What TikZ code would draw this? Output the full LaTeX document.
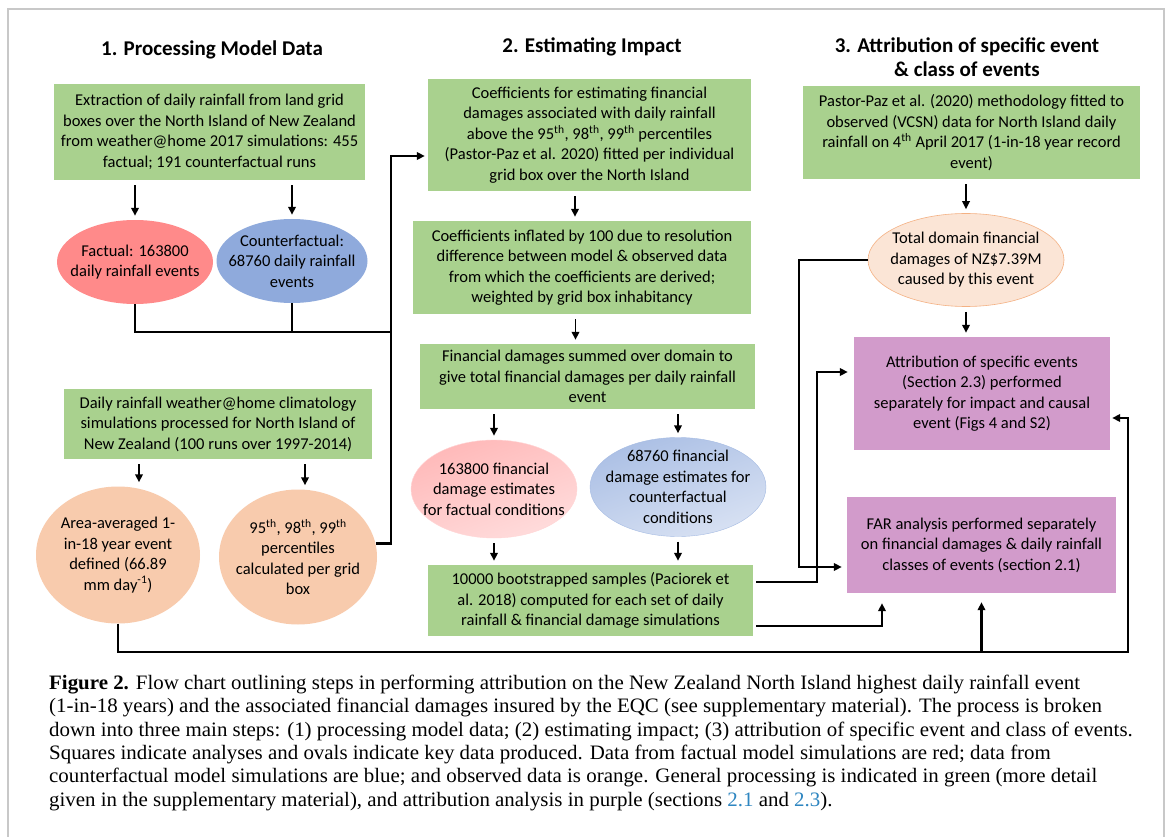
\documentclass[tikz,border=0pt]{standalone}
\usepackage{fontspec}
\setmainfont{Carlito}
\newfontfamily\capfont[FakeStretch=1.02]{Liberation Serif}
\usetikzlibrary{arrows.meta,shapes.geometric}

\definecolor{procgreen}{HTML}{A9D18E}
\definecolor{attrpurple}{HTML}{D29BCB}
\definecolor{factred}{HTML}{FF8A8A}
\definecolor{cfblue}{HTML}{8FAADC}
\definecolor{obsorange}{HTML}{F8CBAD}
\definecolor{obslight}{HTML}{FBE5D6}
\definecolor{obsedge}{HTML}{F4B183}
\definecolor{framegrey}{HTML}{C8C8C8}
\definecolor{refblue}{HTML}{2E86C1}

\tikzset{
  procbox/.style={fill=procgreen, align=center, inner sep=0pt},
  attrbox/.style={fill=attrpurple, align=center, inner sep=0pt},
  oval/.style={ellipse, inner sep=0pt},
  steptitle/.style={font=\fontsize{21}{24}\selectfont\bfseries, align=center},
  flow/.style={-{Triangle[length=8pt,width=7.5pt]}, line width=1.8pt,
    shorten <=5pt, shorten >=4pt},
  link/.style={line width=2.4pt},
  linkarrow/.style={-{Triangle[length=8pt,width=7.5pt]}},
}

\begin{document}
\begin{tikzpicture}[x=1pt, y=-1pt, font=\fontsize{16.5}{20.5}\selectfont]
\useasboundingbox (0,0) rectangle (1171,837);
\fill[white] (0,0) rectangle (1171,837);
% frame
\draw[framegrey, line width=1.5pt] (8,837) -- (8,9) -- (1164,9) -- (1164,837);

% titles
\node[steptitle] (t1) at (212,50) {1. Processing Model Data};
\node[steptitle] (t2) at (592,47) {2. Estimating Impact};
\node[steptitle] (t3) at (967,57) {3. Attribution of specific event\\\& class of events};

% 1. processing model data
\node[procbox, minimum width=311pt, minimum height=96pt] (extr) at (209.5,132)
  {Extraction of daily rainfall from land grid\\boxes over the North Island of New Zealand\\from weather@home 2017 simulations: 455\\factual; 191 counterfactual runs};
\node[oval, fill=factred, minimum width=156pt, minimum height=84pt,
  label={[align=center]center:{Factual: 163800\\daily rainfall events}}] (fact) at (135,262) {};
\node[oval, fill=cfblue, minimum width=151pt, minimum height=84pt,
  label={[align=center]center:{Counterfactual:\\68760 daily rainfall\\events}}] (cf) at (292,261) {};
\node[procbox, minimum width=308pt, minimum height=70pt] (clim) at (218,424)
  {Daily rainfall weather@home climatology\\simulations processed for North Island of\\New Zealand (100 runs over 1997-2014)};
\node[oval, fill=obsorange, minimum width=164pt, minimum height=137pt,
  label={[align=center]center:{Area-averaged 1-\\in-18 year event\\defined (66.89\\mm day\textsuperscript{-1})}}] (area) at (118,555) {};
\node[oval, fill=obsorange, minimum width=158pt, minimum height=135pt,
  label={[align=center]center:{95\textsuperscript{th}, 98\textsuperscript{th}, 99\textsuperscript{th}\\percentiles\\calculated per grid\\box}}] (pct) at (298,557) {};

% 2. estimating impact
\node[procbox, minimum width=323pt, minimum height=112pt] (coef) at (589.5,135)
  {Coefficients for estimating financial\\damages associated with daily rainfall\\above the 95\textsuperscript{th}, 98\textsuperscript{th}, 99\textsuperscript{th} percentiles\\(Pastor-Paz et al. 2020) fitted per individual\\grid box over the North Island};
\node[procbox, minimum width=338pt, minimum height=93pt] (infl) at (582,267.5)
  {Coefficients inflated by 100 due to resolution\\difference between model \& observed data\\from which the coefficients are derived;\\weighted by grid box inhabitancy};
\node[procbox, minimum width=335pt, minimum height=65pt] (sum) at (587.5,376.5)
  {Financial damages summed over domain to\\give total financial damages per daily rainfall\\event};
\node[oval, top color=factred!60, bottom color=factred!30, shading angle=20, draw=factred!35,
  minimum width=166pt, minimum height=98pt,
  label={[align=center]center:{163800 financial\\damage estimates\\for factual conditions}}] (fdmg) at (494,489) {};
\node[oval, top color=cfblue!75, bottom color=cfblue!35, shading angle=20, draw=cfblue!80,
  minimum width=176pt, minimum height=99pt,
  label={[align=center]center:{68760 financial\\damage estimates for\\counterfactual\\conditions}}] (cfdmg) at (678,487) {};
\node[procbox, minimum width=325pt, minimum height=71pt] (boot) at (590.5,600.5)
  {10000 bootstrapped samples (Paciorek et\\al. 2018) computed for each set of daily\\rainfall \& financial damage simulations};

% 3. attribution
\node[procbox, minimum width=337pt, minimum height=93pt] (obs) at (971.5,132.5)
  {Pastor-Paz et al. (2020) methodology fitted to\\observed (VCSN) data for North Island daily\\rainfall on 4\textsuperscript{th} April 2017 (1-in-18 year record\\event)};
\node[oval, fill=obslight, draw=obsedge, line width=0.6pt, minimum width=196pt, minimum height=93pt,
  label={[align=center]center:{Total domain financial\\damages of NZ\$7.39M\\caused by this event}}] (tot) at (966,260) {};
\node[attrbox, minimum width=256pt, minimum height=113pt] (attr) at (982,393.5)
  {Attribution of specific events\\(Section 2.3) performed\\separately for impact and causal\\event (Figs 4 and S2)};
\node[attrbox, minimum width=269pt, minimum height=96pt] (far) at (981.5,545)
  {FAR analysis performed separately\\on financial damages \& daily rainfall\\classes of events (section 2.1)};

% straight flow arrows
\draw[flow] (extr.south -| fact) -- (fact.north);
\draw[flow] (extr.south -| cf) -- (cf.north);
\draw[flow] ([xshift=21pt]area.north |- clim.south) -- ([xshift=21pt]area.north);
\draw[flow] ([xshift=7pt]pct.north |- clim.south) -- ([xshift=7pt]pct.north);
\draw[flow] ([xshift=-7pt]infl.north |- coef.south) -- ([xshift=-7pt]infl.north);
\draw[flow] ([xshift=-12pt]sum.north |- infl.south) -- ([xshift=-12pt]sum.north);
\draw[flow] (sum.south -| fdmg) -- (fdmg.north);
\draw[flow] (sum.south -| cfdmg) -- (cfdmg.north);
\draw[flow] (fdmg.south) -- (fdmg.south |- boot.north);
\draw[flow] (cfdmg.south) -- (cfdmg.south |- boot.north);
\draw[flow] (obs.south -| tot) -- (tot.north);
\draw[flow] (tot.south) -- (tot.south |- attr.north);

% elbow connectors
\coordinate (join) at (391,332);
\coordinate (bend) at (391,156);
\draw[link] (fact.south) |- (join);
\draw[link] (cf.south) -- (cf.south |- join);
\draw[link, linkarrow, shorten >=3pt] (pct.10) -| (bend) -- (bend -| coef.west);

\coordinate (base) at (1128,652);
\coordinate (rise) at (1128,418);
\draw[link, linkarrow, shorten >=2pt] (area.south) |- (base) -- (rise) -- (rise -| attr.east);
\draw[link, linkarrow, shorten >=9pt] (far.south |- base) -- (far.south);

\coordinate (upper) at (817,582);
\coordinate (upturn) at (817,372);
\draw[link, linkarrow, shorten <=3pt, shorten >=6pt] (boot.east |- upper) -- (upper) -- (upturn) -- (upturn -| attr.west);
\coordinate (lower) at (882,626);
\draw[link, linkarrow, shorten <=3pt, shorten >=10pt] (boot.east |- lower) -| (lower |- far.south);
\coordinate (drop) at (799,567);
\draw[link, linkarrow, shorten >=5pt] (tot.west) -| (drop) -- (drop -| far.west);

% caption
\node[anchor=north west, align=left, inner sep=0pt,
  font=\capfont\fontsize{20.5}{23.3}\selectfont] (cap) at (49,675)
  {\textbf{Figure 2.} Flow chart outlining steps in performing attribution on the New Zealand North Island highest daily rainfall event\\
   (1-in-18 years) and the associated financial damages insured by the EQC (see supplementary material). The process is broken\\
   down into three main steps: (1) processing model data; (2) estimating impact; (3) attribution of specific event and class of events.\\
   Squares indicate analyses and ovals indicate key data produced. Data from factual model simulations are red; data from\\
   counterfactual model simulations are blue; and observed data is orange. General processing is indicated in green (more detail\\
   given in the supplementary material), and attribution analysis in purple (sections \textcolor{refblue}{2.1} and \textcolor{refblue}{2.3}).};
\end{tikzpicture}
\end{document}
